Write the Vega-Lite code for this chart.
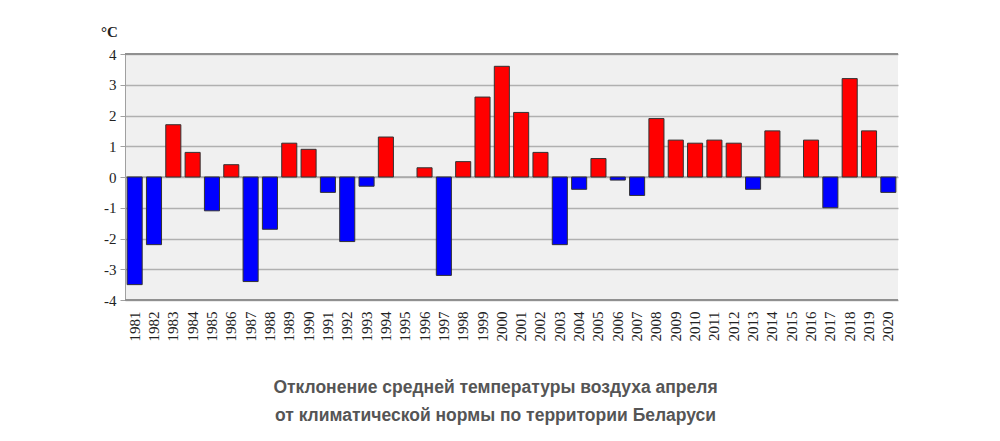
{
  "$schema": "https://vega.github.io/schema/vega-lite/v6.json",
  "autosize": {"type": "none"},
  "width": 773,
  "height": 246,
  "padding": {"left": 125, "top": 54, "right": 102, "bottom": 141},
  "background": "white",
  "view": {"fill": "#f0f0f0", "stroke": null},
  "title": {
    "text": ["Отклонение средней температуры воздуха апреля", "от климатической нормы по территории Беларуси"],
    "orient": "bottom",
    "anchor": "middle",
    "font": "Liberation Sans",
    "fontSize": 17.5,
    "fontWeight": "bold",
    "color": "#555555",
    "lineHeight": 28,
    "offset": 38,
    "dx": -16
  },
  "resolve": {"axis": {"y": "independent"}},
  "data": {
    "values": [
      {"year": "1981", "value": -3.5}, {"year": "1982", "value": -2.2}, {"year": "1983", "value": 1.7},
      {"year": "1984", "value": 0.8}, {"year": "1985", "value": -1.1}, {"year": "1986", "value": 0.4},
      {"year": "1987", "value": -3.4}, {"year": "1988", "value": -1.7}, {"year": "1989", "value": 1.1},
      {"year": "1990", "value": 0.9}, {"year": "1991", "value": -0.5}, {"year": "1992", "value": -2.1},
      {"year": "1993", "value": -0.3}, {"year": "1994", "value": 1.3}, {"year": "1995", "value": 0},
      {"year": "1996", "value": 0.3}, {"year": "1997", "value": -3.2}, {"year": "1998", "value": 0.5},
      {"year": "1999", "value": 2.6}, {"year": "2000", "value": 3.6}, {"year": "2001", "value": 2.1},
      {"year": "2002", "value": 0.8}, {"year": "2003", "value": -2.2}, {"year": "2004", "value": -0.4},
      {"year": "2005", "value": 0.6}, {"year": "2006", "value": -0.1}, {"year": "2007", "value": -0.6},
      {"year": "2008", "value": 1.9}, {"year": "2009", "value": 1.2}, {"year": "2010", "value": 1.1},
      {"year": "2011", "value": 1.2}, {"year": "2012", "value": 1.1}, {"year": "2013", "value": -0.4},
      {"year": "2014", "value": 1.5}, {"year": "2015", "value": 0}, {"year": "2016", "value": 1.2},
      {"year": "2017", "value": -1.0}, {"year": "2018", "value": 3.2}, {"year": "2019", "value": 1.5},
      {"year": "2020", "value": -0.5}
    ]
  },
  "layer": [
    {
      "data": {"values": [{"y": 0}]},
      "mark": {"type": "rule", "color": "#a8a8a8", "strokeWidth": 1.5},
      "encoding": {"y": {"field": "y", "type": "quantitative", "axis": null, "scale": {"domain": [-4, 4], "nice": false}}}
    },
    {
      "mark": {"type": "bar", "stroke": "#333333", "strokeWidth": 1},
      "encoding": {
        "x": {
          "field": "year", "type": "ordinal",
          "scale": {"paddingInner": 0.22, "paddingOuter": 0.11},
          "axis": {
            "title": null, "labelAngle": -90, "labelFont": "Liberation Serif", "labelFontSize": 15,
            "labelColor": "#222222", "domain": false, "ticks": false, "labelPadding": 11
          }
        },
        "y": {
          "field": "value", "type": "quantitative",
          "scale": {"domain": [-4, 4], "nice": false},
          "axis": {
            "values": [-4, -3, -2, -1, 0, 1, 2, 3, 4],
            "labelOverlap": false,
            "labelExpr": "datum.value < 0 ? '-' + abs(datum.value) : '' + datum.value",
            "title": "°C", "titleAngle": 0, "titleX": -16, "titleY": -15, "titleFont": "Liberation Serif",
            "titleFontSize": 15, "titleFontWeight": "bold", "titleColor": "#222222", "titleAlign": "center",
            "labelFont": "Liberation Serif", "labelFontSize": 15, "labelColor": "#222222",
            "grid": true, "gridColor": "#b0b0b0", "gridWidth": 1.5,
            "domain": true, "domainColor": "#a0a0a0", "ticks": true, "tickColor": "#a0a0a0", "tickSize": 5,
            "labelPadding": 4
          }
        },
        "color": {
          "condition": {"test": "datum.value > 0", "value": "#ff0000"},
          "value": "#0000ff"
        },
        "strokeOpacity": {
          "condition": {"test": "datum.value == 0", "value": 0},
          "value": 1
        }
      }
    },
    {
      "data": {"values": [{"y": 4}, {"y": -4}]},
      "mark": {"type": "rule", "color": "#909090", "strokeWidth": 2},
      "encoding": {"y": {"field": "y", "type": "quantitative", "axis": null}}
    }
  ]
}
